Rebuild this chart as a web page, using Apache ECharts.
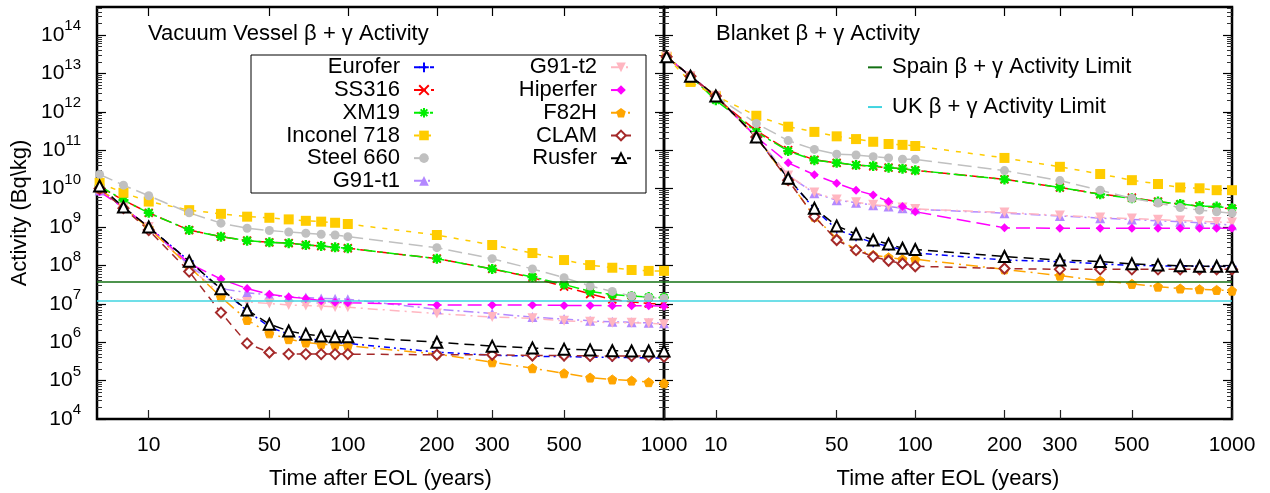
<!DOCTYPE html>
<html>
<head>
<meta charset="utf-8">
<title>Vacuum Vessel / Blanket β + γ Activity</title>
<script src="https://cdn.jsdelivr.net/npm/echarts@6/dist/echarts.min.js"></script>
<style>
  html, body { margin: 0; padding: 0; background: #fff; }
  #chart { width: 1270px; height: 493px; }
</style>
</head>
<body>
<div id="chart"></div>
<script>
// time after end of life (years)
var years = [1, 5, 10, 20, 30, 40, 50, 60, 70, 80, 90, 100, 200, 300, 400, 500, 600, 700, 800, 900, 1000];
var xTickYears = [10, 50, 100, 200, 300, 500, 1000];
var yDecades = [4, 5, 6, 7, 8, 9, 10, 11, 12, 13, 14];

// activity limits (Bq/kg)
var spainLimit = 3.7e7;
var ukLimit = 1.2e7;

// vacuum vessel beta+gamma activity (Bq/kg)
var vvEurofer  = [1.0e10, 3.2e9, 1.0e9, 1.3e8, 2.4e7, 6.6e6, 2.5e6, 1.6e6, 1.26e6, 1.12e6, 1.0e6, 9.3e5, 5.5e5, 4.6e5, 4.3e5, 4.2e5, 4.1e5, 4.0e5, 4.0e5, 3.9e5, 3.9e5];
var vvSS316    = [1.12e10, 5.0e9, 2.34e9, 8.3e8, 5.6e8, 4.4e8, 4.0e8, 3.8e8, 3.4e8, 3.2e8, 2.95e8, 2.8e8, 1.5e8, 8.1e7, 4.8e7, 2.8e7, 1.8e7, 1.3e7, 1.12e7, 1.02e7, 1.0e7];
var vvXM19     = [1.17e10, 5.0e9, 2.34e9, 8.3e8, 5.6e8, 4.4e8, 4.0e8, 3.8e8, 3.4e8, 3.2e8, 2.95e8, 2.8e8, 1.5e8, 8.1e7, 5.0e7, 3.2e7, 2.1e7, 1.74e7, 1.6e7, 1.5e7, 1.45e7];
var vvInconel  = [1.41e10, 7.8e9, 4.6e9, 2.75e9, 2.2e9, 1.86e9, 1.74e9, 1.58e9, 1.45e9, 1.38e9, 1.29e9, 1.2e9, 6.2e8, 3.4e8, 2.1e8, 1.38e8, 1.02e8, 8.7e7, 7.6e7, 7.2e7, 7.2e7];
var vvSteel660 = [2.34e10, 1.23e10, 6.5e9, 2.34e9, 1.26e9, 9.3e8, 8.1e8, 7.4e8, 6.9e8, 6.5e8, 6.2e8, 5.6e8, 2.9e8, 1.5e8, 8.1e7, 4.8e7, 2.9e7, 2.1e7, 1.6e7, 1.45e7, 1.38e7];
var vvG91t1    = [8.9e9, 3.2e9, 1.0e9, 1.0e8, 2.5e7, 1.95e7, 1.7e7, 1.5e7, 1.45e7, 1.38e7, 1.35e7, 1.32e7, 7.2e6, 5.6e6, 4.5e6, 4.0e6, 3.6e6, 3.4e6, 3.3e6, 3.2e6, 3.1e6];
var vvG91t2    = [8.9e9, 3.2e9, 1.0e9, 8.9e7, 1.78e7, 1.12e7, 1.02e7, 9.3e6, 9.1e6, 8.7e6, 8.3e6, 8.1e6, 5.6e6, 4.5e6, 4.2e6, 3.6e6, 3.4e6, 3.2e6, 3.2e6, 3.1e6, 2.95e6];
var vvHiperfer = [8.3e9, 3.2e9, 1.0e9, 1.12e8, 4.4e7, 2.5e7, 1.78e7, 1.5e7, 1.38e7, 1.2e7, 1.1e7, 1.07e7, 9.3e6, 9.3e6, 9.3e6, 9.1e6, 9.1e6, 8.9e6, 8.9e6, 8.9e6, 8.7e6];
var vvF82H     = [1.0e10, 3.2e9, 9.5e8, 9.3e7, 1.5e7, 3.8e6, 1.7e6, 1.2e6, 9.8e5, 8.9e5, 8.5e5, 8.1e5, 4.9e5, 3.0e5, 2.1e5, 1.55e5, 1.2e5, 1.07e5, 1.0e5, 9.1e4, 8.5e4];
var vvCLAM     = [1.0e10, 3.1e9, 8.3e8, 6.9e7, 5.9e6, 9.3e5, 5.4e5, 4.9e5, 4.9e5, 4.9e5, 4.9e5, 4.9e5, 4.7e5, 4.7e5, 4.5e5, 4.5e5, 4.4e5, 4.4e5, 4.4e5, 4.3e5, 4.2e5];
var vvRusfer   = [1.17e10, 3.3e9, 1.0e9, 1.29e8, 2.45e7, 6.9e6, 2.95e6, 1.95e6, 1.62e6, 1.45e6, 1.38e6, 1.38e6, 1.0e6, 7.9e5, 7.1e5, 6.6e5, 6.3e5, 6.0e5, 5.9e5, 5.9e5, 5.9e5];

// blanket beta+gamma activity (Bq/kg)
var blEurofer  = [2.7e13, 8.5e12, 2.6e12, 2.2e11, 1.86e10, 2.95e9, 8.7e8, 5.6e8, 3.9e8, 3.1e8, 2.6e8, 2.1e8, 1.38e8, 1.26e8, 1.1e8, 1.0e8, 9.8e7, 9.5e7, 9.5e7, 9.3e7, 9.3e7];
var blSS316    = [2.7e13, 8.5e12, 2.3e12, 3.2e11, 1.0e11, 5.6e10, 4.7e10, 4.1e10, 3.8e10, 3.5e10, 3.3e10, 3.0e10, 1.74e10, 1.07e10, 7.2e9, 5.8e9, 4.6e9, 3.9e9, 3.5e9, 3.2e9, 2.95e9];
var blXM19     = [2.7e13, 8.5e12, 2.0e12, 3.0e11, 9.5e10, 5.5e10, 4.7e10, 4.1e10, 3.9e10, 3.5e10, 3.3e10, 3.0e10, 1.74e10, 1.07e10, 7.1e9, 5.6e9, 4.6e9, 4.0e9, 3.5e9, 3.4e9, 3.1e9];
var blInconel  = [2.7e13, 6.0e12, 2.6e12, 7.9e11, 4.1e11, 3.0e11, 2.3e11, 1.95e11, 1.66e11, 1.45e11, 1.38e11, 1.29e11, 6.3e10, 3.7e10, 2.4e10, 1.66e10, 1.32e10, 1.07e10, 1.02e10, 9.1e9, 9.1e9];
var blSteel660 = [2.7e13, 8.5e12, 2.6e12, 5.0e11, 1.78e11, 1.05e11, 7.9e10, 7.5e10, 6.8e10, 6.3e10, 5.8e10, 5.8e10, 2.95e10, 1.62e10, 9.1e9, 5.6e9, 4.2e9, 3.2e9, 2.75e9, 2.5e9, 2.3e9];
var blG91t1    = [2.7e13, 8.5e12, 2.6e12, 2.2e11, 2.2e10, 7.6e9, 5.0e9, 4.3e9, 3.7e9, 3.4e9, 3.1e9, 2.9e9, 2.3e9, 1.95e9, 1.7e9, 1.58e9, 1.45e9, 1.38e9, 1.29e9, 1.2e9, 1.12e9];
var blG91t2    = [2.7e13, 8.5e12, 2.6e12, 2.2e11, 2.2e10, 7.9e9, 5.2e9, 4.4e9, 3.8e9, 3.5e9, 3.2e9, 2.95e9, 2.4e9, 2.0e9, 1.78e9, 1.66e9, 1.55e9, 1.48e9, 1.41e9, 1.35e9, 1.32e9];
var blHiperfer = [2.7e13, 8.5e12, 2.6e12, 2.2e11, 4.7e10, 2.3e10, 1.38e10, 9.1e9, 6.8e9, 4.6e9, 3.4e9, 2.5e9, 9.5e8, 9.3e8, 9.3e8, 9.3e8, 9.3e8, 9.3e8, 9.3e8, 9.3e8, 9.3e8];
var blF82H     = [2.7e13, 8.5e12, 2.6e12, 2.2e11, 1.66e10, 1.86e9, 5.0e8, 2.6e8, 1.86e8, 1.62e8, 1.45e8, 1.45e8, 7.9e7, 5.4e7, 4.0e7, 3.3e7, 2.8e7, 2.5e7, 2.4e7, 2.3e7, 2.2e7];
var blCLAM     = [2.7e13, 8.5e12, 2.6e12, 2.2e11, 1.66e10, 1.86e9, 4.6e8, 2.5e8, 1.7e8, 1.32e8, 1.12e8, 9.5e7, 8.3e7, 7.9e7, 7.9e7, 7.9e7, 7.9e7, 7.9e7, 7.9e7, 7.9e7, 7.9e7];
var blRusfer   = [2.7e13, 8.5e12, 2.6e12, 2.2e11, 1.86e10, 3.1e9, 1.07e9, 6.6e8, 4.6e8, 3.6e8, 2.8e8, 2.6e8, 1.7e8, 1.38e8, 1.26e8, 1.1e8, 1.02e8, 9.8e7, 9.5e7, 9.5e7, 9.5e7];

var FONT = "'Liberation Sans', Arial, Helvetica, sans-serif";
var PLUS = 'path://M5,0L5,10M0,5L10,5';
var CROSS = 'path://M0,0L10,10M10,0L0,10';
var STAR = 'path://M5,0L5,10M0,5L10,5M1.5,1.5L8.5,8.5M8.5,1.5L1.5,8.5';
var PENTA = 'path://M5,0L10,3.8L8.1,10L1.9,10L0,3.8Z';

var materials = [
  { name: 'Eurofer',     vv: vvEurofer,  bl: blEurofer,  color: '#0000ff', symbol: PLUS,  size: 9,  bw: 1.5, dash: [6, 4, 2, 4] },
  { name: 'SS316',       vv: vvSS316,    bl: blSS316,    color: '#ff0000', symbol: CROSS, size: 8,  bw: 1.8, dash: [12, 5] },
  { name: 'XM19',        vv: vvXM19,     bl: blXM19,     color: '#00ee00', symbol: STAR,  size: 10, bw: 2.4, dash: [12, 4, 3, 4] },
  { name: 'Inconel 718', vv: vvInconel,  bl: blInconel,  color: '#ffcc00', symbol: 'rect', size: 10, dash: [5, 7] },
  { name: 'Steel 660',   vv: vvSteel660, bl: blSteel660, color: '#c0c0c0', symbol: 'circle', size: 9, dash: [14, 6] },
  { name: 'G91-t1',      vv: vvG91t1,    bl: blG91t1,    color: '#b388ff', symbol: 'triangle', size: 10, dash: [10, 4, 2, 4] },
  { name: 'G91-t2',      vv: vvG91t2,    bl: blG91t2,    color: '#ffb6c1', symbol: 'triangle', rotate: 180, size: 10, dash: [10, 5, 2, 5] },
  { name: 'Hiperfer',    vv: vvHiperfer, bl: blHiperfer, color: '#ff00ff', symbol: 'diamond', size: 9, dash: [14, 6] },
  { name: 'F82H',        vv: vvF82H,     bl: blF82H,     color: '#ffa500', symbol: PENTA, size: 9, dash: [12, 5, 2, 5] },
  { name: 'CLAM',        vv: vvCLAM,     bl: blCLAM,     color: '#a52a2a', symbol: 'emptyDiamond', size: 10, dash: [8, 6] },
  { name: 'Rusfer',      vv: vvRusfer,   bl: blRusfer,   color: '#000000', symbol: 'emptyTriangle', size: 11, dash: [10, 6] }
];

// the time axis is drawn as log10(t + 22)
function xt(t) { return Math.log10(t + 22); }
var xMin = Math.log10(22.6), xMax = Math.log10(1022);
var yMin = 4, yMax = 14.73;
var xTicks = xTickYears.map(xt);
var yMinor = [];
yDecades.forEach(function (n) {
  for (var k = 2; k <= 9; k++) {
    var v = n + Math.log10(k);
    if (v <= yMax) yMinor.push(v);
  }
});

var grids = [
  { left: 97, top: 7, width: 567, height: 412 },
  { left: 664, top: 7, width: 568, height: 412 }
].map(function (g) {
  g.show = true; g.borderColor = '#000'; g.borderWidth = 2.5;
  g.containLabel = false; g.outerBoundsMode = 'none';
  return g;
});

var xAxes = [], yAxes = [];
[0, 1].forEach(function (g) {
  xAxes.push({
    gridIndex: g, type: 'value', min: xMin, max: xMax, position: 'bottom',
    axisLine: { show: false }, splitLine: { show: false },
    axisTick: { inside: true, length: 9, customValues: xTicks, lineStyle: { color: '#222', width: 1.2 } },
    axisLabel: {
      customValues: xTicks, fontSize: 21, color: '#000', fontFamily: FONT, margin: 16,
      formatter: function (v) { return String(Math.round(Math.pow(10, v) - 22)); }
    },
    name: 'Time after EOL (years)', nameLocation: 'middle', nameGap: 49,
    nameTextStyle: { fontSize: 22, color: '#000', fontFamily: FONT }
  });
  xAxes.push({
    gridIndex: g, type: 'value', min: xMin, max: xMax, position: 'top',
    axisLine: { show: false }, splitLine: { show: false }, axisLabel: { show: false },
    axisTick: { inside: true, length: 9, customValues: xTicks, lineStyle: { color: '#000', width: 1.2 } }
  });
  ['left', 'right'].forEach(function (pos) {
    var major = {
      gridIndex: g, type: 'value', min: yMin, max: yMax, position: pos,
      axisLine: { show: false }, splitLine: { show: false },
      axisTick: { inside: true, length: 9, customValues: yDecades, lineStyle: { color: '#000', width: 1.2 } },
      axisLabel: { show: false }
    };
    if (g === 0 && pos === 'left') {
      major.axisLabel = {
        customValues: yDecades, margin: 16, color: '#000', align: 'right',
        formatter: function (v) { return '{b|10}{s|' + Math.round(v) + '}'; },
        rich: {
          b: { fontSize: 21, fontFamily: FONT, color: '#000', lineHeight: 21, verticalAlign: 'bottom' },
          s: { fontSize: 15, fontFamily: FONT, color: '#000', lineHeight: 15, verticalAlign: 'bottom', padding: [0, 0, 12, 0] }
        }
      };
      major.name = 'Activity (Bq\\kg)';
      major.nameLocation = 'middle';
      major.nameGap = 66;
      major.nameTextStyle = { fontSize: 22, color: '#000', fontFamily: FONT };
    }
    yAxes.push(major);
    yAxes.push({
      gridIndex: g, type: 'value', min: yMin, max: yMax, position: pos,
      axisLine: { show: false }, splitLine: { show: false }, axisLabel: { show: false },
      axisTick: { inside: true, length: 5, customValues: yMinor, lineStyle: { color: '#333', width: 1 } }
    });
  });
});

var limits = [
  { name: 'Spain β + γ Activity Limit', value: spainLimit, color: '#137013' },
  { name: 'UK β + γ Activity Limit', value: ukLimit, color: '#40d4e0' }
];

var series = [];
[0, 1].forEach(function (g) {
  limits.forEach(function (lim) {
    series.push({
      name: lim.name, type: 'line', xAxisIndex: g * 2, yAxisIndex: g * 4, data: [], symbol: 'none',
      lineStyle: { color: lim.color, width: 1.6 }, itemStyle: { color: lim.color },
      markLine: {
        silent: true, symbol: 'none', label: { show: false }, animation: false,
        lineStyle: { color: lim.color, width: 1.6, type: 'solid' },
        data: [{ yAxis: Math.log10(lim.value) }]
      }
    });
  });
});
[0, 1].forEach(function (g) {
  materials.forEach(function (m) {
    var vals = g === 0 ? m.vv : m.bl;
    var isPath = m.symbol.indexOf('path://') === 0;
    series.push({
      name: m.name, type: 'line', xAxisIndex: g * 2, yAxisIndex: g * 4,
      data: years.map(function (t, i) { return [xt(t), Math.log10(vals[i])]; }),
      symbol: m.symbol, symbolSize: m.size, symbolRotate: m.rotate || 0, showAllSymbol: true,
      lineStyle: { color: m.color, width: 1.5, type: m.dash },
      itemStyle: isPath ? { color: m.color, borderColor: m.color, borderWidth: m.bw }
                        : { color: m.color },
      emphasis: { disabled: true }
    });
  });
});

var legendText = { fontSize: 22, color: '#000', fontFamily: FONT, lineHeight: 22.7 };
var chart = echarts.init(document.getElementById('chart'), null, { renderer: 'canvas' });
chart.setOption({
  animation: false,
  backgroundColor: '#fff',
  title: [
    { text: 'Vacuum Vessel β + γ Activity', left: 148, top: 23, padding: 0,
      textStyle: { fontSize: 22, fontWeight: 'normal', color: '#000', fontFamily: FONT } },
    { text: 'Blanket β + γ Activity', left: 716, top: 23, padding: 0,
      textStyle: { fontSize: 22, fontWeight: 'normal', color: '#000', fontFamily: FONT } }
  ],
  graphic: [{
    type: 'rect', z: 0, silent: true,
    shape: { x: 251, y: 55, width: 395, height: 138 },
    style: { fill: '#fff', stroke: '#000', lineWidth: 1 }
  }],
  legend: [
    { orient: 'vertical', align: 'right', right: 835, top: 56, padding: 0, itemGap: 0,
      itemWidth: 20, itemHeight: 12, selectedMode: false,
      textStyle: Object.assign({ padding: [0, 9, 0, 0] }, legendText),
      data: ['Eurofer', 'SS316', 'XM19', 'Inconel 718', 'Steel 660', 'G91-t1'] },
    { orient: 'vertical', align: 'right', right: 638, top: 56, padding: 0, itemGap: 0,
      itemWidth: 20, itemHeight: 12, selectedMode: false,
      textStyle: Object.assign({ padding: [0, 9, 0, 0] }, legendText),
      data: ['G91-t2', 'Hiperfer', 'F82H', 'CLAM', 'Rusfer'] },
    { orient: 'vertical', align: 'left', left: 868, top: 56, padding: 0, itemGap: 17,
      itemWidth: 14, itemHeight: 2, selectedMode: false,
      textStyle: Object.assign({ padding: [0, 0, 0, 5] }, legendText),
      data: limits.map(function (lim) { return { name: lim.name, icon: 'rect' }; }) }
  ],
  grid: grids,
  xAxis: xAxes,
  yAxis: yAxes,
  series: series
});
</script>
</body>
</html>
